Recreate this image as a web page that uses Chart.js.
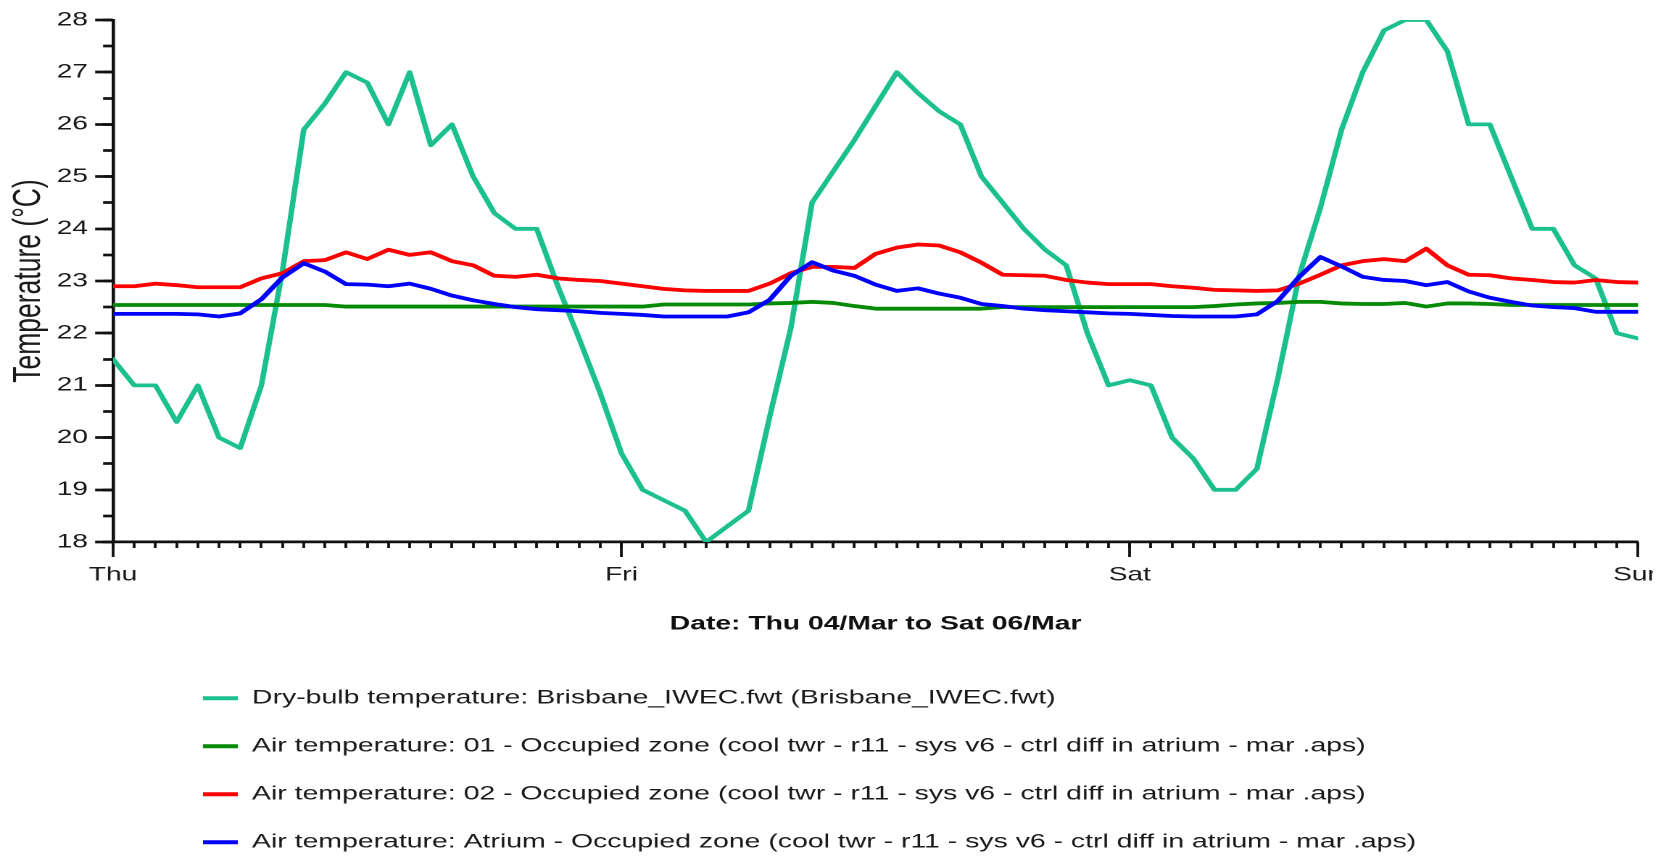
<!DOCTYPE html>
<html>
<head>
<meta charset="utf-8">
<title>Temperatures Thu 04/Mar to Sat 06/Mar</title>
<script src="https://cdn.jsdelivr.net/npm/chart.js@4.4.1/dist/chart.umd.min.js"></script>
<style>
  html, body { margin: 0; padding: 0; background: #ffffff; }
  #frame { position: relative; width: 1653px; height: 857px; overflow: hidden; }
  /* the chart is laid out narrow and widened horizontally */
  #stage { position: absolute; left: 0; top: 0; width: 1147px; height: 857px;
           transform: scaleX(1.45); transform-origin: 0 0; }
  #stage canvas { display: block; }
</style>
</head>
<body>
<div id="frame"><div id="stage"><canvas id="chart"></canvas></div></div>
<script>
// Hours since Thu 00:00
const HOURS = [
  0, 1, 2, 3, 4, 5, 6, 7, 8, 9, 10, 11, 12, 13, 14, 15, 16, 17, 18, 19, 20, 21, 22, 23,
  24, 25, 26, 27, 28, 29, 30, 31, 32, 33, 34, 35, 36, 37, 38, 39, 40, 41, 42, 43, 44, 45, 46, 47,
  48, 49, 50, 51, 52, 53, 54, 55, 56, 57, 58, 59, 60, 61, 62, 63, 64, 65, 66, 67, 68, 69, 70, 71,
  72
];
const DAY_LABELS = ['Thu', 'Fri', 'Sat', 'Sun'];

const SERIES_NAMES = [
  'Dry-bulb temperature: Brisbane_IWEC.fwt (Brisbane_IWEC.fwt)',
  'Air temperature: 01 - Occupied zone (cool twr - r11 - sys v6 - ctrl diff in atrium - mar .aps)',
  'Air temperature: 02 - Occupied zone (cool twr - r11 - sys v6 - ctrl diff in atrium - mar .aps)',
  'Air temperature: Atrium - Occupied zone (cool twr - r11 - sys v6 - ctrl diff in atrium - mar .aps)'
];
const SERIES_COLORS = ['#1cc08e', '#058a05', '#ff0000', '#0000ff'];

// °C, one value per hour
const DRY_BULB = [
  21.5, 21.0, 21.0, 20.3, 21.0, 20.0, 19.8, 21.0, 23.2, 25.9,
  26.4, 27.0, 26.8, 26.0, 27.0, 25.6, 26.0, 25.0, 24.3, 24.0,
  24.0, 22.9, 21.9, 20.85, 19.7, 19.0, 18.8, 18.6, 18.0, 18.3,
  18.6, 20.4, 22.1, 24.5, 25.1, 25.7, 26.35, 27.0, 26.6, 26.25,
  26.0, 25.0, 24.5, 24.0, 23.6, 23.3, 22.0, 21.0, 21.1, 21.0,
  20.0, 19.6, 19.0, 19.0, 19.4, 21.15, 23.1, 24.4, 25.9, 27.0,
  27.8, 28.0, 28.0, 27.4, 26.0, 26.0, 25.0, 24.0, 24.0, 23.3,
  23.05, 22.0, 21.9
];
const ZONE_01 = [
  22.54, 22.54, 22.54, 22.54, 22.54, 22.54, 22.54, 22.54, 22.54, 22.54,
  22.54, 22.51, 22.51, 22.51, 22.51, 22.51, 22.51, 22.51, 22.51, 22.51,
  22.51, 22.51, 22.51, 22.51, 22.51, 22.51, 22.55, 22.55, 22.55, 22.55,
  22.55, 22.57, 22.58, 22.6, 22.58, 22.52, 22.47, 22.47, 22.47, 22.47,
  22.47, 22.47, 22.5, 22.5, 22.5, 22.5, 22.5, 22.5, 22.5, 22.5,
  22.5, 22.5, 22.52, 22.55, 22.57, 22.58, 22.6, 22.6, 22.57, 22.56,
  22.56, 22.58, 22.51, 22.57, 22.57, 22.56, 22.54, 22.54, 22.54, 22.54,
  22.54, 22.54, 22.54
];
const ZONE_02 = [
  22.9, 22.9, 22.95, 22.92, 22.88, 22.88, 22.88, 23.05, 23.15, 23.38,
  23.4, 23.55, 23.42, 23.6, 23.5, 23.55, 23.38, 23.3, 23.1, 23.08,
  23.12, 23.05, 23.02, 23.0, 22.95, 22.9, 22.85, 22.82, 22.81, 22.81,
  22.81, 22.95, 23.15, 23.27, 23.27, 23.25, 23.52, 23.64, 23.7, 23.68,
  23.55, 23.35, 23.12, 23.11, 23.1, 23.02, 22.97, 22.94, 22.94, 22.94,
  22.9, 22.87, 22.83, 22.82, 22.81, 22.82, 22.95, 23.12, 23.3, 23.38,
  23.42, 23.38, 23.62, 23.3, 23.12, 23.11, 23.05, 23.02, 22.98, 22.97,
  23.02, 22.98, 22.97
];
const ATRIUM = [
  22.37, 22.37, 22.37, 22.37, 22.36, 22.32, 22.38, 22.65, 23.07, 23.34,
  23.18, 22.94, 22.93, 22.9, 22.95, 22.85, 22.72, 22.63, 22.56, 22.5,
  22.46, 22.44, 22.42, 22.39, 22.37, 22.35, 22.32, 22.32, 22.32, 22.32,
  22.4, 22.64, 23.1, 23.36, 23.2, 23.1, 22.93, 22.81, 22.86, 22.76,
  22.68, 22.56, 22.52, 22.47, 22.44, 22.42, 22.4, 22.38, 22.37, 22.35,
  22.33, 22.32, 22.32, 22.32, 22.36, 22.62, 23.08, 23.46, 23.28, 23.08,
  23.02, 23.0, 22.92, 22.98, 22.8, 22.68, 22.6, 22.53, 22.5, 22.48,
  22.41, 22.41, 22.41
];

const Y_MIN = 18, Y_MAX = 28;
const X_MIN = 0, X_MAX = 72;

Chart.defaults.font.family = "'Liberation Sans', Arial, Helvetica, sans-serif";
Chart.defaults.color = '#1a1a1a';

const INK = '#111111';

// moves the legend block to the right of the chart's left edge
const legendOffset = {
  id: 'legendOffset',
  afterLayout(chart, args, opts) {
    if (chart.legend) { chart.legend.left = opts.left; }
  }
};

const seriesValues = [DRY_BULB, ZONE_01, ZONE_02, ATRIUM];
const datasets = seriesValues.map((values, i) => ({
  label: SERIES_NAMES[i],
  data: values,
  borderColor: SERIES_COLORS[i],
  backgroundColor: SERIES_COLORS[i],
  borderWidth: 3.8,
  borderCapStyle: 'round',
  borderJoinStyle: 'round',
  pointRadius: 0,
  tension: 0,
  order: seriesValues.length - i
}));

new Chart(document.getElementById('chart'), {
  type: 'line',
  data: { labels: HOURS, datasets },
  plugins: [legendOffset],
  options: {
    responsive: true,
    maintainAspectRatio: false,
    animation: false,
    devicePixelRatio: 2,
    layout: { padding: { top: 20, right: 17.3, left: 0, bottom: -5 } },
    scales: {
      y: {
        type: 'linear', position: 'left', weight: 1,
        min: Y_MIN, max: Y_MAX,
        ticks: { stepSize: 1, color: '#1a1a1a', font: { size: 19.4 }, padding: 4.9 },
        grid: { drawOnChartArea: false, drawTicks: true, tickLength: 12.4, tickWidth: 2.7, tickColor: INK },
        border: { display: true, color: INK, width: 2.3 },
        title: { display: true, text: 'Temperature (°C)', color: '#1a1a1a',
                 font: { size: 26.5 }, padding: { top: 4.1, bottom: 0 } },
        afterFit(scale) { scale.width = 78; }
      },
      yMinor: {
        type: 'linear', position: 'left', weight: 0,
        min: Y_MIN, max: Y_MAX,
        ticks: { display: false, stepSize: 0.5 },
        grid: { drawOnChartArea: false, drawTicks: true, tickLength: 6.9, tickWidth: 2.7, tickColor: INK },
        border: { display: false },
        afterFit(scale) { scale.width = 0; }
      },
      x: {
        type: 'linear', position: 'bottom', weight: 1,
        min: X_MIN, max: X_MAX,
        ticks: {
          stepSize: 24, autoSkip: false, maxRotation: 0, color: '#1a1a1a',
          font: { size: 19.4 }, padding: 6.4,
          callback: (v) => DAY_LABELS[Math.round(v / 24)]
        },
        grid: { drawOnChartArea: false, drawTicks: true, tickLength: 15, tickWidth: 1.9, tickColor: INK },
        border: { display: true, color: INK, width: 2.7 },
        title: { display: true, text: 'Date: Thu 04/Mar to Sat 06/Mar', color: '#111',
                 font: { size: 19.5, weight: 'bold' }, padding: { top: 0, bottom: 24.3 } },
        afterFit(scale) { scale.height = 118; scale.paddingLeft = 0; scale.paddingRight = 0; }
      },
      xMinor: {
        type: 'linear', position: 'bottom', weight: 0,
        min: X_MIN, max: X_MAX,
        ticks: { display: false, stepSize: 1, autoSkip: false },
        grid: { drawOnChartArea: false, drawTicks: true, tickLength: 6, tickWidth: 1.9, tickColor: INK },
        border: { display: false },
        afterFit(scale) { scale.height = 0; scale.paddingLeft = 0; scale.paddingRight = 0; }
      }
    },
    plugins: {
      legendOffset: { left: 111.6 },
      tooltip: { enabled: false },
      legend: {
        display: true,
        position: 'bottom',
        align: 'start',
        labels: {
          color: '#1a1a1a',
          font: { size: 19.6 },
          boxWidth: 24,
          boxHeight: 4,
          padding: 28.4,
          sort: (a, b) => a.datasetIndex - b.datasetIndex,
          generateLabels(chart) {
            const items = Chart.defaults.plugins.legend.labels.generateLabels(chart);
            items.forEach((it) => { it.lineWidth = 0; it.fillStyle = it.strokeStyle; });
            return items;
          }
        }
      }
    }
  }
});
</script>
</body>
</html>
